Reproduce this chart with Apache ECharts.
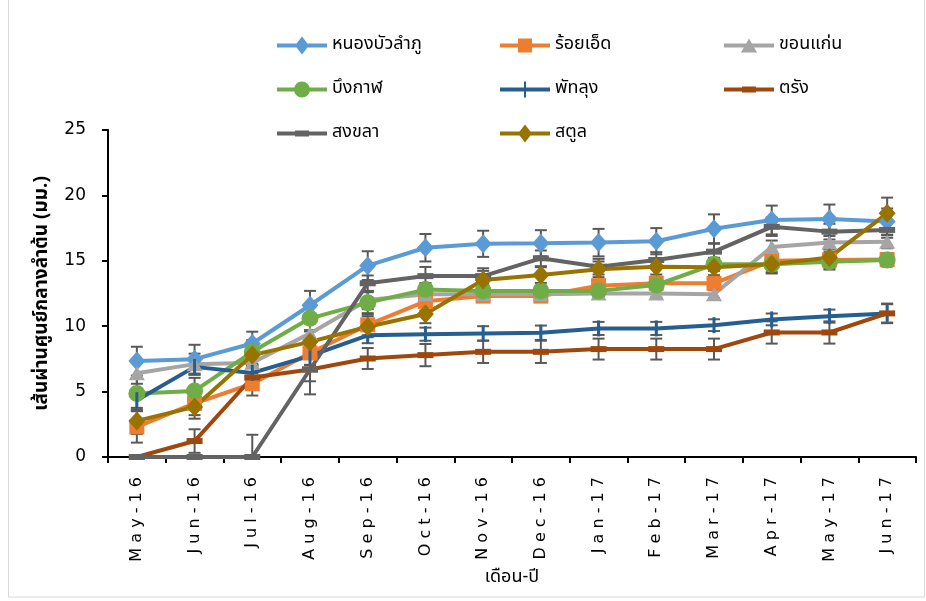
<!DOCTYPE html>
<html>
<head>
<meta charset="utf-8">
<script src="https://cdn.jsdelivr.net/npm/echarts@6/dist/echarts.min.js"></script>
<style>
  html, body { margin: 0; padding: 0; background: #fff; }
  #chart { width: 926px; height: 601px; }
</style>
</head>
<body>
<div id="chart"></div>
<script>
// Month labels
const months = ['May-16','Jun-16','Jul-16','Aug-16','Sep-16','Oct-16','Nov-16','Dec-16','Jan-17','Feb-17','Mar-17','Apr-17','May-17','Jun-17'];
const yTicks = [0, 5, 10, 15, 20, 25];

// Mean stem diameter (mm) per province
const nongBuaLamphu = [7.33, 7.48, 8.68, 11.6, 14.63, 16.0, 16.3, 16.34, 16.39, 16.5, 17.45, 18.12, 18.2, 18.0];
const roiEt        = [2.3, 4.1, 5.6, 7.95, 10.1, 11.9, 12.3, 12.3, 13.1, 13.28, 13.28, 15.0, 15.06, 15.1];
const khonKaen     = [6.4, 7.1, 7.2, 9.45, 12.0, 12.45, 12.45, 12.45, 12.5, 12.5, 12.45, 16.05, 16.4, 16.46];
const buengKan     = [4.85, 5.05, 8.04, 10.6, 11.8, 12.8, 12.7, 12.7, 12.7, 13.15, 14.73, 14.73, 14.93, 15.06];
const phatthalung  = [4.34, 6.89, 6.43, 7.73, 9.3, 9.39, 9.45, 9.5, 9.83, 9.83, 10.08, 10.52, 10.77, 10.98];
const trang        = [0, 1.22, 6.08, 6.69, 7.53, 7.79, 8.04, 8.04, 8.25, 8.25, 8.25, 9.52, 9.52, 10.98];
const songkhla     = [0, 0, 0, 6.69, 13.28, 13.83, 13.83, 15.19, 14.55, 15.06, 15.7, 17.6, 17.23, 17.36];
const satun        = [2.76, 3.83, 7.79, 8.8, 9.96, 10.93, 13.53, 13.91, 14.35, 14.55, 14.5, 14.73, 15.26, 18.63];

// Standard error (± mm)
const errNongBuaLamphu = [1.1, 1.1, 0.9, 1.1, 1.1, 1.05, 1.0, 1.0, 1.05, 1.0, 1.1, 1.1, 1.1, 1.0];
const errRoiEt        = [1.2, 0.9, 0.9, 0.9, 0.8, 0.7, 0.4, 0.4, 0.4, 0.5, 0.5, 0.6, 0.6, 0.5];
const errKhonKaen     = [0.8, 0.8, 0.8, 0.9, 0.7, 0.5, 0.4, 0.4, 0.3, 0.3, 0.3, 0.5, 0.5, 0.5];
const errBuengKan     = [1.2, 1.0, 0.9, 0.9, 0.8, 0.5, 0.4, 0.4, 0.4, 0.4, 0.5, 0.7, 0.6, 0.5];
const errPhatthalung  = [0.8, 0.6, 0.6, 0.7, 0.6, 0.5, 0.55, 0.55, 0.5, 0.5, 0.45, 0.45, 0.5, 0.75];
const errTrang        = [0, 0.9, 0.9, 0.9, 0.8, 0.85, 0.85, 0.85, 0.8, 0.8, 0.8, 0.85, 0.85, 0.7];
const errSongkhla     = [0, 0, 1.7, 1.9, 0.6, 0.7, 0.6, 0.6, 0.6, 0.6, 0.6, 0.7, 0.6, 0.6];
const errSatun        = [1.0, 0.9, 0.8, 0.8, 0.8, 0.7, 0.7, 0.6, 0.6, 0.6, 0.6, 0.6, 0.6, 1.2];

const thaiFont = '"Noto Sans Thai", "Noto Sans Thai UI", "Leelawadee UI", Tahoma, "DejaVu Sans", sans-serif';
const latinFont = '"DejaVu Sans", Verdana, sans-serif';

const plusPath = 'path://M-1,-8L1,-8L1,8L-1,8Z';

// Legend icons: a 50x18 box holding the line stroke with its marker in the middle
const iconFrame = 'M0,0L0.01,0Z M50,18L49.99,18Z ';
const iconLine = 'M0,7L50,7L50,11L0,11Z ';
const legendIcons = {
  diamond: 'path://' + iconFrame + iconLine + 'M25,0L32,9L25,18L18,9Z',
  square: 'path://' + iconFrame + iconLine + 'M18,2L32,2L32,16L18,16Z',
  triangle: 'path://' + iconFrame + iconLine + 'M25,2L33,16L17,16Z',
  circle: 'path://' + iconFrame + iconLine + 'M17,9A8,8 0 1 1 33,9A8,8 0 1 1 17,9Z',
  plus: 'path://' + iconFrame + iconLine + 'M24,1L26,1L26,17L24,17Z',
  dash: 'path://' + iconFrame + iconLine + 'M18,6L32,6L32,12L18,12Z'
};

const seriesDefs = [
  { name: 'หนองบัวลำภู', data: nongBuaLamphu, err: errNongBuaLamphu, color: '#5B9BD5', symbol: 'diamond', size: [17, 19], icon: 'diamond' },
  { name: 'ร้อยเอ็ด', data: roiEt, err: errRoiEt, color: '#ED7D31', symbol: 'rect', size: [15, 15], icon: 'square' },
  { name: 'ขอนแก่น', data: khonKaen, err: errKhonKaen, color: '#A5A5A5', symbol: 'triangle', size: [16, 14], icon: 'triangle' },
  { name: 'บึงกาฬ', data: buengKan, err: errBuengKan, color: '#70AD47', symbol: 'circle', size: 17, icon: 'circle' },
  { name: 'พัทลุง', data: phatthalung, err: errPhatthalung, color: '#255E91', symbol: plusPath, size: [3, 16], icon: 'plus' },
  { name: 'ตรัง', data: trang, err: errTrang, color: '#9E480E', symbol: 'rect', size: [16, 6], icon: 'dash' },
  { name: 'สงขลา', data: songkhla, err: errSongkhla, color: '#636363', symbol: 'rect', size: [16, 6], icon: 'dash' },
  { name: 'สตูล', data: satun, err: errSatun, color: '#997300', symbol: 'diamond', size: [17, 19], icon: 'diamond' }
];

function errorBarSeries(def) {
  return {
    type: 'custom',
    name: def.name + '-err',
    z: 1,
    silent: true,
    legendHoverLink: false,
    data: def.data.map((v, i) => [i, Math.max(0, v - def.err[i]), v + def.err[i]]),
    renderItem: function (params, api) {
      const lo = api.coord([api.value(0), api.value(1)]);
      const hi = api.coord([api.value(0), api.value(2)]);
      const hw = 6;
      const style = { stroke: '#595959', lineWidth: 2, fill: null };
      return {
        type: 'group',
        children: [
          { type: 'line', shape: { x1: lo[0], y1: lo[1], x2: hi[0], y2: hi[1] }, style: style },
          { type: 'line', shape: { x1: lo[0] - hw, y1: lo[1], x2: lo[0] + hw, y2: lo[1] }, style: style },
          { type: 'line', shape: { x1: hi[0] - hw, y1: hi[1], x2: hi[0] + hw, y2: hi[1] }, style: style }
        ]
      };
    }
  };
}

function lineSeries(def) {
  return {
    type: 'line',
    name: def.name,
    z: 2,
    data: def.data,
    symbol: def.symbol,
    symbolSize: def.size,
    showAllSymbol: true,
    lineStyle: { color: def.color, width: 4 },
    itemStyle: { color: def.color, borderWidth: 0 },
    emphasis: { disabled: true },
    animation: false
  };
}

function legendData(names) {
  return names.map((n) => {
    const def = seriesDefs.find((d) => d.name === n);
    return { name: n, icon: legendIcons[def.icon] };
  });
}

const legendBase = {
  orient: 'vertical',
  top: 31,
  itemWidth: 50,
  itemHeight: 18,
  itemGap: 25,
  symbolKeepAspect: false,
  textStyle: { fontFamily: thaiFont, fontSize: 18, color: '#000', lineHeight: 19, padding: [0, 0, 0, 0] },
  selectedMode: false
};

const chart = echarts.init(document.getElementById('chart'), null, { renderer: 'canvas' });

chart.setOption({
  animation: false,
  backgroundColor: '#fff',
  grid: { left: 108, right: 10, top: 130, bottom: 144, containLabel: false },
  legend: [
    Object.assign({}, legendBase, { left: 272, data: legendData(['หนองบัวลำภู', 'บึงกาฬ', 'สงขลา']) }),
    Object.assign({}, legendBase, { left: 495, data: legendData(['ร้อยเอ็ด', 'พัทลุง', 'สตูล']) }),
    Object.assign({}, legendBase, { left: 719, data: legendData(['ขอนแก่น', 'ตรัง']) })
  ],
  xAxis: {
    type: 'category',
    data: months,
    boundaryGap: true,
    name: 'เดือน-ปี',
    nameLocation: 'middle',
    nameGap: 108,
    nameTextStyle: { fontFamily: thaiFont, fontSize: 18, color: '#000' },
    axisLine: { lineStyle: { color: '#000', width: 2 } },
    axisTick: { show: true, interval: 0, length: 6, lineStyle: { color: '#000', width: 2 } },
    axisLabel: {
      interval: 0,
      rotate: 90,
      margin: 20,
      fontFamily: latinFont,
      fontSize: 16,
      color: '#000',
      formatter: (v) => v.split('').join(' ')
    }
  },
  yAxis: {
    type: 'value',
    min: 0,
    max: 25,
    interval: 5,
    name: 'เส้นผ่านศูนย์กลางลำต้น (มม.)',
    nameLocation: 'middle',
    nameGap: 55,
    nameTextStyle: { fontFamily: thaiFont, fontSize: 19, color: '#000', fontWeight: 'bold' },
    axisLine: { show: true, lineStyle: { color: '#000', width: 2 } },
    axisTick: { show: true, length: 6, lineStyle: { color: '#000', width: 2 } },
    axisLabel: {
      margin: 22,
      fontFamily: latinFont,
      fontSize: 17,
      color: '#000',
      formatter: (v) => (yTicks.indexOf(v) >= 0 ? String(v) : '')
    },
    splitLine: { show: false }
  },
  graphic: [
    {
      type: 'rect',
      z: -1,
      shape: { x: 8.5, y: -2, width: 916, height: 599 },
      style: { fill: null, stroke: '#d9d9d9', lineWidth: 1 }
    }
  ],
  series: seriesDefs.map(errorBarSeries).concat(seriesDefs.map(lineSeries))
});
</script>
</body>
</html>
